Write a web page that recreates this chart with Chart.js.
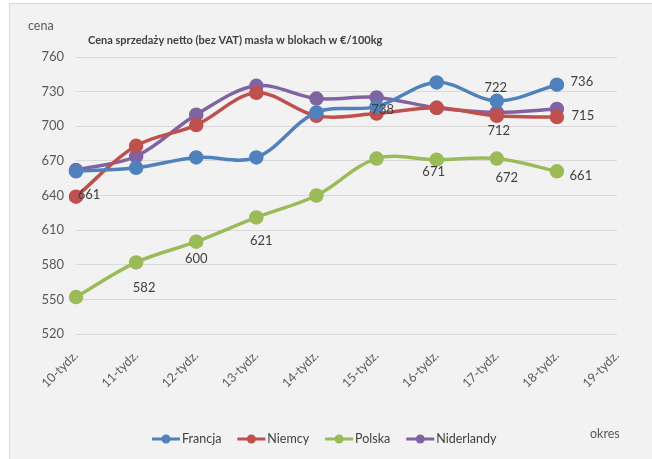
<!DOCTYPE html>
<html>
<head>
<meta charset="utf-8">
<script src="https://cdn.jsdelivr.net/npm/chart.js@4/dist/chart.umd.min.js"></script>
<style>
html,body{margin:0;padding:0;background:#fff;}
#wrap{width:652px;height:459px;position:relative;}
</style>
</head>
<body>
<div id="wrap"><canvas id="c" width="652" height="459"></canvas></div>
<script>
// ---- data ----
const categories = ['10-tydz.','11-tydz.','12-tydz.','13-tydz.','14-tydz.','15-tydz.','16-tydz.','17-tydz.','18-tydz.','19-tydz.'];
const francja    = [661, 664, 673, 673, 712, 717, 738, 722, 736];
const niemcy     = [639, 683, 701, 729, 709, 711, 716, 709, 708];
const polska     = [552, 582, 600, 621, 640, 672, 671, 672, 661];
const niderlandy = [662, 674, 710, 735, 724, 725, 716, 712, 715];
const yTicks = {min: 520, max: 760, step: 30};
const titleText = 'Cena sprzedaży netto (bez VAT) masła w blokach w €/100kg';
const yAxisTitle = 'cena';
const xAxisTitle = 'okres';

// ---- styles ----
const FONT = 'Lato, "Open Sans", sans-serif';
const colors = {Francja:'#4F81BD', Niemcy:'#C0504D', Polska:'#9BBB59', Niderlandy:'#8064A2'};
// data labels: dataset index, point index, offset of text centre
const labelSpecs = [
  {ds:0, i:0, dx:13, dy:24},
  {ds:2, i:1, dx:8,  dy:25},
  {ds:2, i:2, dx:0,  dy:17},
  {ds:2, i:3, dx:5,  dy:23},
  {ds:0, i:6, dx:-54,dy:27},
  {ds:2, i:6, dx:-3, dy:12},
  {ds:0, i:7, dx:-1, dy:-13},
  {ds:3, i:7, dx:2,  dy:18},
  {ds:2, i:7, dx:10, dy:19},
  {ds:0, i:8, dx:25, dy:-3},
  {ds:3, i:8, dx:26, dy:7},
  {ds:2, i:8, dx:24, dy:5}
];

function ds(label, data){
  const c = colors[label];
  return {label, data, borderColor:c, backgroundColor:c, pointBackgroundColor:c,
    pointBorderColor:c, borderWidth:3.5, pointRadius:5.5, pointHoverRadius:5.5,
    tension:0.35, fill:false};
}

const bgPlugin = {
  id:'bg',
  beforeDraw(chart){
    const ctx = chart.ctx;
    ctx.save();
    ctx.fillStyle = '#ffffff';
    ctx.fillRect(0,0,chart.width,chart.height);
    ctx.fillStyle = '#f2f2f2';
    ctx.fillRect(9.5,3.5,chart.width,chart.height);
    ctx.strokeStyle = '#d9d9d9';
    ctx.lineWidth = 1;
    ctx.strokeRect(9.5,3.5,chart.width,chart.height);
    ctx.restore();
  }
};

const textPlugin = {
  id:'texts',
  afterDatasetsDraw(chart){
    const ctx = chart.ctx;
    ctx.save();
    // data labels
    ctx.font = '13px ' + FONT;
    ctx.fillStyle = '#404040';
    ctx.textAlign = 'center';
    ctx.textBaseline = 'middle';
    labelSpecs.forEach(s => {
      const meta = chart.getDatasetMeta(s.ds);
      const pt = meta.data[s.i];
      const v = chart.data.datasets[s.ds].data[s.i];
      ctx.fillText(String(v), pt.x + s.dx, pt.y + s.dy);
    });
    // title
    ctx.font = 'bold 11px ' + FONT;
    ctx.fillStyle = '#404040';
    ctx.textAlign = 'left';
    ctx.fillText(titleText, 88, 40);
    // axis titles
    ctx.font = '12.5px ' + FONT;
    ctx.fillStyle = '#595959';
    ctx.fillText(yAxisTitle, 28, 26);
    ctx.fillText(xAxisTitle, 590, 434);
    // legend
    ctx.font = '12.5px ' + FONT;
    let x = 152;
    const y = 439;
    chart.data.datasets.forEach(d => {
      ctx.strokeStyle = d.borderColor;
      ctx.lineWidth = 3;
      ctx.beginPath(); ctx.moveTo(x, y); ctx.lineTo(x+28, y); ctx.stroke();
      ctx.fillStyle = d.borderColor;
      ctx.beginPath(); ctx.arc(x+14, y, 4.5, 0, Math.PI*2); ctx.fill();
      ctx.fillStyle = '#404040';
      ctx.textAlign = 'left';
      ctx.fillText(d.label, x+30, y);
      x += 30 + ctx.measureText(d.label).width + 16;
    });
    ctx.restore();
  }
};

new Chart(document.getElementById('c'), {
  type:'line',
  data:{
    labels: categories,
    datasets:[ds('Francja',francja), ds('Niemcy',niemcy), ds('Polska',polska), ds('Niderlandy',niderlandy)]
  },
  options:{
    responsive:false,
    animation:false,
    devicePixelRatio:1,
    layout:{padding:{left:20, right:35, top:57, bottom:0}},
    plugins:{legend:{display:false}, title:{display:false}, tooltip:{enabled:false}},
    scales:{
      x:{
        offset:false,
        grid:{display:false},
        border:{display:false},
        ticks:{color:'#595959', font:{family:FONT, size:12.5}, maxRotation:45, minRotation:45, padding:6, autoSkip:false},
        afterFit(s){ s.height = 125; }
      },
      y:{
        min:yTicks.min, max:yTicks.max,
        grid:{color:'#d9d9d9', lineWidth:1, drawTicks:false},
        border:{display:false},
        ticks:{stepSize:yTicks.step, color:'#595959', font:{family:FONT, size:13}, padding:12},
        afterFit(s){ s.width = 56; }
      }
    }
  },
  plugins:[bgPlugin, textPlugin]
});
</script>
</body>
</html>
